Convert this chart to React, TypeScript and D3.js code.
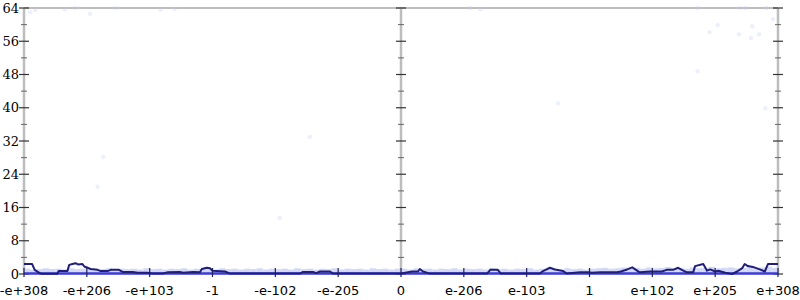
import React from "react";
import * as d3 from "d3";

const xTickLabels = ["-e+308", "-e+206", "-e+103", "-1", "-e-102", "-e-205", "0", "e-206", "e-103", "1", "e+102", "e+205", "e+308"];
const xTickValues = [-6, -5, -4, -3, -2, -1, 0, 1, 2, 3, 4, 5, 6];
const yTickValues = [0, 8, 16, 24, 32, 40, 48, 56, 64];
const yMinorValues = [4, 12, 20, 28, 36, 44, 52, 60];

const lineX = [
  -6.0, -5.87, -5.83, -5.75, -5.71, -5.47, -5.45, -5.31, -5.28, -5.23, -5.18, -5.14, -5.07, -5.04, -4.99, -4.94,
  -4.83, -4.78, -4.67, -4.62, -4.49, -4.43, -4.27, -4.19, -4.04, -3.96, -3.79, -3.72, -3.52, -3.47, -3.31, -3.2,
  -3.17, -3.09, -3.04, -3.0, -2.8, -2.72, -1.61, -1.56, -1.4, -1.35, -1.29, -1.13, -1.08, 0.0,
  0.18, 0.27, 0.3, 0.35, 0.46, 1.37, 1.42, 1.54, 1.59, 2.21, 2.26, 2.37, 2.45, 2.58, 2.64, 2.85, 2.98, 3.04,
  3.17, 3.44, 3.5, 3.6, 3.68, 3.74, 3.8, 3.96, 4.15, 4.23, 4.33, 4.41, 4.47, 4.55, 4.65, 4.68, 4.81, 4.84,
  4.87, 4.92, 5.0, 5.05, 5.16, 5.27, 5.35, 5.43, 5.47, 5.52, 5.6, 5.71, 5.79, 5.84, 6.0,
];
const lineY = [
  2.4, 2.4, 1.0, 0.2, 0.05, 0.05, 0.7, 0.7, 2.2, 2.4, 2.6, 2.3, 2.4, 1.8, 1.5, 1.2,
  1.0, 0.7, 0.7, 1.0, 1.0, 0.5, 0.5, 0.3, 0.3, 0.1, 0.1, 0.4, 0.5, 0.3, 0.5, 0.4,
  1.2, 1.5, 1.4, 0.8, 0.6, 0.1, 0.1, 0.5, 0.5, 0.2, 0.6, 0.6, 0.1, 0.1,
  0.6, 0.6, 1.2, 0.6, 0.1, 0.1, 1.0, 1.0, 0.1, 0.1, 0.7, 1.5, 1.1, 0.7, 0.1, 0.4, 0.4, 0.3,
  0.4, 0.4, 0.6, 1.1, 1.6, 1.0, 0.4, 0.6, 0.6, 1.0, 1.0, 1.5, 1.0, 0.4, 0.4, 1.9, 2.4, 1.6,
  0.8, 1.1, 0.6, 0.8, 0.3, 0.0, 0.6, 1.4, 2.4, 1.9, 1.7, 1.1, 0.6, 2.4, 2.4,
];

const dotX = [
  -5.9, -5.82, -5.35, -5.19, -4.95, -4.55, -3.83, -3.6, 1.1, 1.26, 4.72, 5.4, 5.47, 5.82,
  2.5, -1.45, -4.74, -4.83, -1.93, 4.72, 5.04, 4.91, 5.38, 5.59, 5.7, 5.57, 5.92, 5.8,
];
const dotY = [
  63.0, 63.5, 63.7, 64.0, 62.6, 64.0, 63.6, 63.8, 64.0, 63.7, 64.0, 64.0, 64.0, 64.0,
  41.1, 33.0, 28.2, 21.0, 13.5, 48.8, 59.9, 58.2, 57.7, 59.6, 57.7, 56.8, 61.3, 39.9,
];

const bandX = [
  -5.95, -5.85, -5.75, -5.65, -5.55, -5.45, -5.35, -5.25, -5.15, -5.05, -4.95, -4.85, -4.75, -4.65, -4.55, -4.45,
  -4.35, -4.25, -4.15, -4.05, -3.95, -3.85, -3.75, -3.65, -3.55, -3.45, -3.35, -3.25, -3.15, -3.05, -2.95, -2.85,
  -2.75, -2.65, -2.55, -2.45, -2.35, -2.25, -2.15, -2.05, -1.95, -1.85, -1.75, -1.65, -1.55, -1.45, -1.35, -1.25,
  -1.15, -1.05, -0.95, -0.85, -0.75, -0.65, -0.55, -0.45, -0.35, -0.25, -0.15, -0.05,
  0.05, 0.15, 0.25, 0.35, 0.45, 0.55, 0.65, 0.75, 0.85, 0.95, 1.05, 1.15, 1.25, 1.35, 1.45, 1.55,
  1.65, 1.75, 1.85, 1.95, 2.05, 2.15, 2.25, 2.35, 2.45, 2.55, 2.65, 2.75, 2.85, 2.95, 3.05, 3.15,
  3.25, 3.35, 3.45, 3.55, 3.65, 3.75, 3.85, 3.95, 4.05, 4.15, 4.25, 4.35, 4.45, 4.55, 4.65, 4.75,
  4.85, 4.95, 5.05, 5.15, 5.25, 5.35, 5.45, 5.55, 5.65, 5.75, 5.85, 5.95,
];
const bandY = [
  0.8, 0.6, 0.7, 0.9, 0.7, 0.8, 0.6, 0.9, 0.7, 0.8, 0.6, 0.8, 0.7, 0.9, 0.6, 0.8,
  0.7, 0.8, 0.6, 0.9, 0.7, 0.8, 0.6, 0.8, 0.7, 0.9, 0.6, 0.8, 0.7, 0.8, 0.6, 0.9,
  0.7, 0.8, 0.6, 0.8, 0.7, 0.9, 0.6, 0.8, 0.7, 0.8, 0.6, 0.9, 0.7, 0.8, 0.6, 0.8,
  0.7, 0.9, 0.6, 0.8, 0.7, 0.8, 0.6, 0.9, 0.7, 0.8, 0.6, 0.8,
  0.8, 0.6, 0.9, 0.7, 0.8, 0.6, 0.8, 0.7, 0.9, 0.6, 0.8, 0.7, 0.8, 0.6, 0.9, 0.7,
  0.8, 0.6, 0.8, 0.7, 0.9, 0.6, 0.8, 0.7, 0.8, 0.6, 0.9, 0.7, 0.8, 0.6, 0.8, 0.9,
  1.0, 0.8, 0.9, 1.1, 0.9, 1.0, 0.8, 1.1, 0.9, 1.0, 1.2, 0.9, 1.0, 0.8, 1.1, 0.9,
  1.0, 1.2, 0.9, 1.0, 1.1, 0.9, 1.0, 1.2, 1.0, 1.1, 1.3, 1.0,
];

export default function App() {
  const width = 800;
  const height = 300;
  const x = d3.scaleLinear().domain([-6, 6]).range([24, 778]);
  const y = d3.scaleLinear().domain([0, 64]).range([274, 8]);
  const line = d3
    .line<number>()
    .x((_, i) => x(lineX[i]))
    .y((d) => y(d))
    .curve(d3.curveLinear);
  const axesX = [-6, 0, 6];
  const gray = "#bdbdbd";
  const tickColor = "#333";

  return (
    <svg
      width={width}
      height={height}
      style={{ position: "absolute", left: 0, top: 0, background: "#fff" }}
    >
      <line x1={x(-6)} x2={x(6)} y1={y(64)} y2={y(64)} stroke={gray} strokeWidth={2} />
      {axesX.map((a) => (
        <g key={"ax" + a}>
          <line x1={x(a)} x2={x(a)} y1={y(64)} y2={y(0)} stroke={gray} strokeWidth={2.5} />
          {yTickValues.map((v) => (
            <line key={v} x1={x(a) - 5} x2={x(a) + 5} y1={y(v)} y2={y(v)} stroke={tickColor} strokeWidth={1.2} />
          ))}
          {yMinorValues.map((v) => (
            <line key={"m" + v} x1={x(a) - 3} x2={x(a) + 3} y1={y(v)} y2={y(v)} stroke="#666" strokeWidth={1} />
          ))}
        </g>
      ))}
      {bandX.map((bx, i) => (
        <rect
          key={"b" + i}
          x={x(bx - 0.05)}
          y={y(bandY[i]) - 2}
          width={x(bx + 0.05) - x(bx - 0.05)}
          height={y(0) - y(bandY[i]) + 2}
          fill="#c4cbf4"
          opacity={0.75}
        />
      ))}
      {dotX.map((dx, i) => (
        <circle key={"d" + i} cx={x(dx)} cy={y(dotY[i])} r={2.2} fill="#c4ccf6" opacity={0.3} />
      ))}
      <line x1={x(-6)} x2={x(6)} y1={y(0) - 0.5} y2={y(0) - 0.5} stroke="#3b3bd6" strokeWidth={2.5} />
      <path d={line(lineY) || ""} fill="none" stroke="#1f1f7a" strokeWidth={2} strokeLinejoin="round" />
      {xTickValues.map((v) => (
        <line key={"xt" + v} x1={x(v)} x2={x(v)} y1={y(0) - 6} y2={y(0) + 3} stroke="#1f1f5a" strokeWidth={1.2} />
      ))}
      {yTickValues.map((v) => (
        <text key={"yl" + v} x={19} y={y(v)} dy="0.35em" textAnchor="end" fontFamily="DejaVu Serif" fontSize={13} fill="#000">
          {v}
        </text>
      ))}
      {xTickValues.map((v, i) => (
        <text key={"xl" + v} x={x(v)} y={295} textAnchor="middle" fontFamily="DejaVu Sans" fontSize={13} fill="#000">
          {xTickLabels[i]}
        </text>
      ))}
    </svg>
  );
}
